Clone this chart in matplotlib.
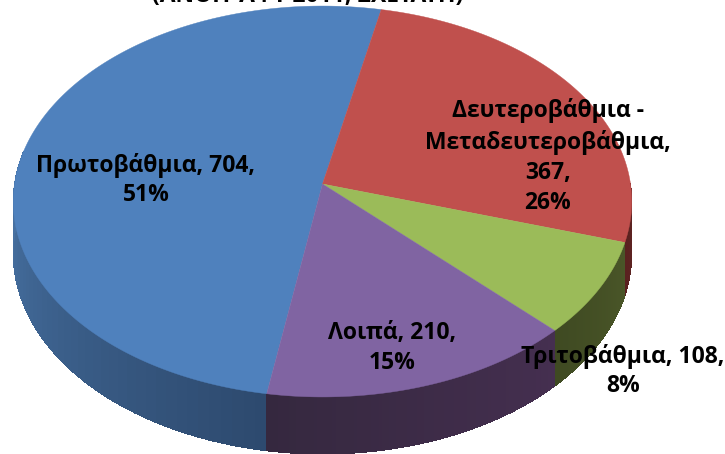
import numpy as np
import matplotlib
matplotlib.use('Agg')
import matplotlib.pyplot as plt
from matplotlib.colors import to_rgb

# Data
categories = ['Πρωτοβάθμια', 'Δευτεροβάθμια -\nΜεταδευτεροβάθμια', 'Τριτοβάθμια', 'Λοιπά']
values = [704, 367, 108, 210]
percents = ['51%', '26%', '8%', '15%']
title = '(ΑΝΟΙΤ ΑΦΤ 2011, ΣΧΕΤΑΤΗ)'

top_colors = ['#4f81bd', '#c0504d', '#9bbb59', '#8064a2']
side_light = ['#4a76a8', '#7a2e2c', '#4a5628', '#452f50']
side_dark = ['#2d4a6e', '#5a2220', '#3f4a22', '#35283f']

plt.rcParams['font.family'] = ['Open Sans', 'DejaVu Sans']

fig = plt.figure(figsize=(7.25, 4.54), dpi=100)
ax = fig.add_axes([0, 0, 1, 1])
ax.set_xlim(0, 725)
ax.set_ylim(454, 0)
ax.axis('off')

# Perspective of the tilted disc
cx, cy = 322.5, 184
a, b, k = 308, 193.9, 0.0895
depth = 52
start = 189.5


def project(angle, r=1.0, down=0.0):
    th = np.radians(angle)
    X = r * np.sin(th)
    Y = r * np.cos(th)
    w = 1 + k * Y
    return cx + a * X / w, cy - b * Y / w + down / w


fracs = np.array(values) / sum(values)
edges = start + 360 * np.concatenate([[0], np.cumsum(fracs)])

# Side wall first, only the front part of the disc shows
for i in range(len(values)):
    angs = np.linspace(edges[i], edges[i + 1], 90)
    c1 = np.array(to_rgb(side_light[i]))
    c2 = np.array(to_rgb(side_dark[i]))
    for j in range(len(angs) - 1):
        mid = (angs[j] + angs[j + 1]) / 2 % 360
        if mid < 90 or mid > 280:
            continue
        if i == 0:
            t = np.clip((280 - mid) / (280 - start), 0, 1)
        else:
            t = (mid % 360 - edges[i] % 360) / (edges[i + 1] - edges[i])
        x1, y1 = project(angs[j])
        x2, y2 = project(angs[j + 1])
        x3, y3 = project(angs[j + 1], down=depth)
        x4, y4 = project(angs[j], down=depth)
        ax.fill([x1, x2, x3, x4], [y1, y2, y3, y4], color=c1 + (c2 - c1) * t,
                lw=0, antialiased=False)

# Top face
for i in range(len(values)):
    angs = np.linspace(edges[i], edges[i + 1], 200)
    xs, ys = project(angs)
    ax.fill(np.r_[cx, xs], np.r_[cy, ys], color=top_colors[i], lw=0.3)

# Labels
fs = 16.5
label_pos = [(146, 180), (548, 156.5), (623, 371), (392, 348)]
label_txt = [
    f'{categories[0]}, {values[0]},\n{percents[0]}',
    f'{categories[1]},\n{values[1]},\n{percents[1]}',
    f'{categories[2]}, {values[2]},\n{percents[2]}',
    f'{categories[3]}, {values[3]},\n{percents[3]}',
]
for (x, y), s in zip(label_pos, label_txt):
    ax.text(x, y, s, ha='center', va='center', fontsize=fs, fontweight='bold',
            color='black', linespacing=1.33)

# Title is cut by the top edge in the reference too
ax.text(308, -4, title, ha='center', va='center', fontsize=fs, fontweight='bold', color='black')

fig.savefig('out.png', dpi=100)
